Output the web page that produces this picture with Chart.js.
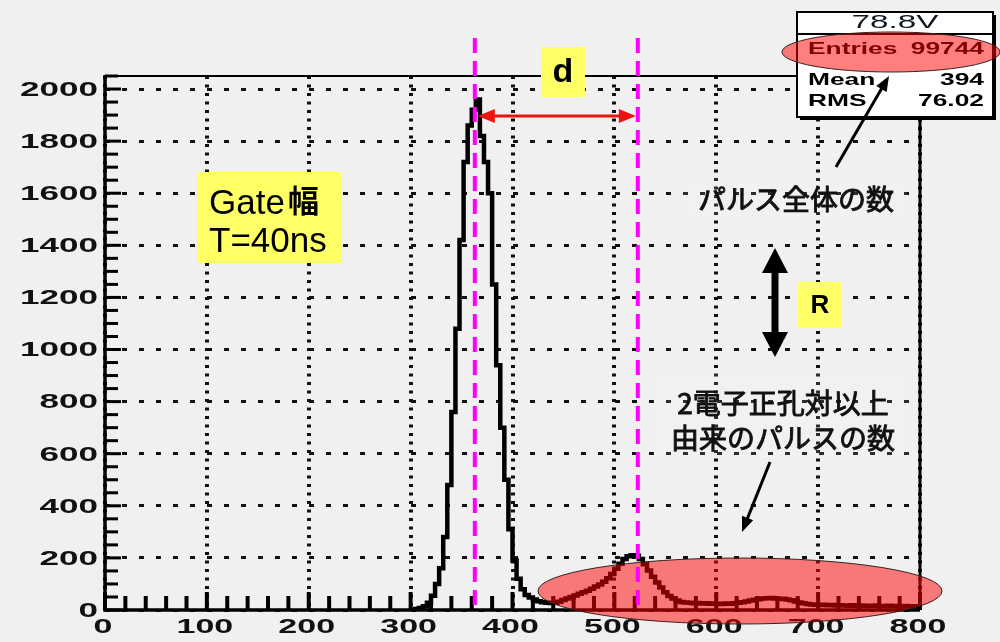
<!DOCTYPE html>
<html>
<head>
<meta charset="utf-8">
<script src="https://cdn.jsdelivr.net/npm/chart.js@4.4.1/dist/chart.umd.min.js"></script>
<style>
  html, body { margin: 0; padding: 0; background: #f0f0f0; }
  canvas { display: block; }
</style>
</head>
<body>
<canvas id="c" width="1000" height="642"></canvas>
<script>
// Pulse-height histogram, 4-unit bins starting at 300
const binStart = 300;
const binWidth = 4;
const counts = [
  2, 4, 8, 14, 28, 55, 100, 160, 280, 480,
  760, 1080, 1420, 1720, 1860, 1920, 1960, 1820, 1720, 1600,
  1250, 940, 700, 500, 310, 190, 120, 80, 58, 48,
  40, 34, 30, 28, 27, 28, 32, 38, 44, 50,
  56, 62, 68, 74, 82, 90, 98, 108, 122, 138,
  158, 178, 196, 206, 210, 208, 196, 176, 152, 128,
  106, 86, 68, 54, 44, 36, 31, 29, 28, 26,
  27, 25, 26, 24, 25, 24, 23, 25, 24, 26,
  28, 30, 33, 36, 39, 41, 44, 45, 46, 44,
  42, 43, 40, 37, 33, 29, 26, 23, 21, 20,
  19, 20, 18, 19, 17, 18, 17, 16, 18, 16,
  17, 15, 16, 15, 17, 15, 14, 16, 14, 15,
  13, 15, 14, 13, 14
];

// Axis ranges and tick spacing
const xRange = [0, 800];
const yRange = [0, 2050];
const xMajor = 100, xMinor = 20;
const yMajor = 200, yMinor = 50;

// Peak positions marked with dashed lines (1 e-h pair and 2 e-h pairs)
const markerX = [363, 523];

// Statistics box
const statTitle = '78.8V';
const statRows = [['Entries', '99744'], ['Mean', '394'], ['RMS', '76.02']];

// Annotation texts
const gateLines = ['Gate', '幅', 'T=40ns'];
const totalLabel = 'パルス全体の数';
const pairLabel = ['2電子正孔対以上', '由来のパルスの数'];

const BG = '#f0f0f0';
const SANS = '"Liberation Sans", Arial, sans-serif';
const CJK = '"Noto Sans CJK JP", sans-serif';

const points = counts.map((v, i) => ({ x: binStart + binWidth * (i + 0.5), y: v }));

function wideText(ctx, text, x, y, sx, align) {
  ctx.save();
  ctx.translate(x, y);
  ctx.scale(sx, 1);
  ctx.textAlign = align;
  ctx.fillText(text, 0, 0);
  ctx.restore();
}

// medium-weight text: regular glyphs with a thin outline
function mediumText(ctx, text, x, y) {
  ctx.fillText(text, x, y);
  ctx.strokeText(text, x, y);
}

function arrowLine(ctx, x1, y1, x2, y2, color, width, headLen, headHalf, both) {
  const ang = Math.atan2(y2 - y1, x2 - x1);
  const ux = Math.cos(ang), uy = Math.sin(ang);
  ctx.save();
  ctx.strokeStyle = color; ctx.fillStyle = color; ctx.lineWidth = width;
  ctx.beginPath();
  ctx.moveTo(both ? x1 + ux * headLen * 0.8 : x1, both ? y1 + uy * headLen * 0.8 : y1);
  ctx.lineTo(x2 - ux * headLen * 0.8, y2 - uy * headLen * 0.8);
  ctx.stroke();
  const head = (tx, ty, dx, dy) => {
    ctx.beginPath();
    ctx.moveTo(tx, ty);
    ctx.lineTo(tx - dx * headLen - dy * headHalf, ty - dy * headLen + dx * headHalf);
    ctx.lineTo(tx - dx * headLen + dy * headHalf, ty - dy * headLen - dx * headHalf);
    ctx.closePath();
    ctx.fill();
  };
  head(x2, y2, ux, uy);
  if (both) head(x1, y1, -ux, -uy);
  ctx.restore();
}

function ellipse(ctx, cx, cy, rx, ry) {
  ctx.save();
  ctx.beginPath();
  ctx.ellipse(cx, cy, rx, ry, 0, 0, Math.PI * 2);
  ctx.fillStyle = 'rgba(255,0,0,0.5)';
  ctx.fill();
  ctx.strokeStyle = '#3a2020';
  ctx.lineWidth = 1;
  ctx.stroke();
  ctx.restore();
}

function box(ctx, x, y, w, h, color) {
  ctx.save(); ctx.fillStyle = color; ctx.fillRect(x, y, w, h); ctx.restore();
}

const decor = {
  id: 'decor',
  beforeDraw(chart) {
    const c = chart.ctx;
    c.save(); c.fillStyle = BG; c.fillRect(0, 0, chart.width, chart.height); c.restore();
  },
  afterDatasetsDraw(chart) {
    const ctx = chart.ctx;
    const xs = chart.scales.x, ys = chart.scales.y, a = chart.chartArea;

    // frame
    ctx.save();
    ctx.strokeStyle = '#000';
    ctx.lineWidth = 2;
    ctx.beginPath(); ctx.moveTo(a.left, a.top); ctx.lineTo(a.right, a.top); ctx.stroke();
    ctx.lineWidth = 3.5;
    ctx.beginPath(); ctx.moveTo(a.left, a.top - 1); ctx.lineTo(a.left, a.bottom); ctx.lineTo(a.right, a.bottom); ctx.stroke();
    ctx.lineWidth = 3;
    ctx.beginPath(); ctx.moveTo(a.right, a.top - 1); ctx.lineTo(a.right, a.bottom); ctx.stroke();

    // inward ticks
    ctx.lineWidth = 4;
    for (let v = xRange[0]; v <= xRange[1]; v += xMinor) {
      const px = xs.getPixelForValue(v);
      const len = v % xMajor === 0 ? 18 : 14;
      ctx.beginPath(); ctx.moveTo(px, a.bottom); ctx.lineTo(px, a.bottom - len); ctx.stroke();
    }
    ctx.lineWidth = 3;
    for (let v = yRange[0]; v <= yRange[1]; v += yMinor) {
      const py = ys.getPixelForValue(v);
      const len = v % yMajor === 0 ? 16 : 13;
      ctx.beginPath(); ctx.moveTo(a.left, py); ctx.lineTo(a.left + len, py); ctx.stroke();
    }

    // tick labels
    ctx.fillStyle = '#111';
    ctx.font = 'bold 21px ' + SANS;
    ctx.textBaseline = 'middle';
    ys.ticks.forEach(t => {
      wideText(ctx, String(t.value), a.left - 7, ys.getPixelForValue(t.value) + 1, 1.67, 'right');
    });
    xs.ticks.forEach(t => {
      wideText(ctx, String(t.value), xs.getPixelForValue(t.value) - 2, 627, 1.62, 'center');
    });
    ctx.restore();

    // Gate label
    ctx.save();
    box(ctx, 197, 172, 145, 91, '#ffff66');
    ctx.fillStyle = '#000';
    ctx.textBaseline = 'alphabetic';
    ctx.textAlign = 'left';
    ctx.font = '35px ' + SANS;
    ctx.fillText(gateLines[0], 209, 214);
    const gw = ctx.measureText(gateLines[0]).width;
    ctx.font = 'bold 31px ' + CJK;
    ctx.fillText(gateLines[1], 209 + gw + 3, 212);
    ctx.font = '35px ' + SANS;
    ctx.fillText(gateLines[2], 209, 252);
    ctx.restore();

    // text labels on the right
    ctx.save();
    box(ctx, 683, 177, 224, 40, 'rgba(255,255,255,0.12)');
    box(ctx, 653, 373, 257, 85, 'rgba(255,255,255,0.12)');
    ctx.fillStyle = '#111';
    ctx.strokeStyle = '#111';
    ctx.lineWidth = 0.9;
    ctx.font = '28px ' + CJK;
    ctx.textAlign = 'center';
    ctx.textBaseline = 'middle';
    mediumText(ctx, totalLabel, 796, 199);
    mediumText(ctx, pairLabel[0], 783, 403);
    mediumText(ctx, pairLabel[1], 783, 438);
    ctx.restore();

    // R label and vertical double arrow
    ctx.save();
    arrowLine(ctx, 775, 248, 775, 357, '#000', 7, 25, 13, true);
    box(ctx, 798, 282, 44, 46, '#ffff66');
    ctx.fillStyle = '#000';
    ctx.font = 'bold 26px ' + SANS;
    ctx.textAlign = 'center';
    ctx.textBaseline = 'middle';
    ctx.fillText('R', 820, 306);
    ctx.restore();

    // d label and red double arrow between the peaks
    ctx.save();
    box(ctx, 541, 47, 44, 50, '#ffff66');
    ctx.fillStyle = '#000';
    ctx.font = 'bold 34px ' + SANS;
    ctx.textAlign = 'center';
    ctx.textBaseline = 'middle';
    ctx.fillText('d', 563, 73);
    ctx.restore();
    const m0 = xs.getPixelForValue(markerX[0]), m1 = xs.getPixelForValue(markerX[1]);
    arrowLine(ctx, m0 + 3, 116, m1 - 2, 116, '#ee1111', 3, 17, 7, true);

    // statistics box
    ctx.save();
    const bx = 797, by = 12, bw = 196, bh = 105;
    ctx.fillStyle = '#000';
    ctx.fillRect(bx + 3, by + 3, bw, bh);
    ctx.fillStyle = '#ffffff';
    ctx.fillRect(bx, by, bw, bh);
    ctx.strokeStyle = '#000';
    ctx.lineWidth = 2;
    ctx.strokeRect(bx, by, bw, bh);
    ctx.beginPath(); ctx.moveTo(bx, 34); ctx.lineTo(bx + bw, 34); ctx.stroke();
    ctx.fillStyle = '#0e1620';
    ctx.textBaseline = 'middle';
    ctx.font = '19px ' + SANS;
    wideText(ctx, statTitle, bx + bw / 2, 23, 1.75, 'center');
    ctx.fillStyle = '#000';
    ctx.font = 'bold 17px ' + SANS;
    const rowY = [49, 80, 101];
    statRows.forEach((r, i) => {
      wideText(ctx, r[0], 808, rowY[i], 1.55, 'left');
      wideText(ctx, r[1], 984, rowY[i], 1.55, 'right');
    });
    ctx.restore();

    // highlight ellipses
    ellipse(ctx, 740, 591, 202, 33);
    ellipse(ctx, 891, 52, 109, 20);

    // dashed peak markers
    ctx.save();
    ctx.strokeStyle = '#ff00ff';
    ctx.lineWidth = 4;
    ctx.setLineDash([15, 8]);
    [m0, m1].forEach(px => {
      ctx.beginPath(); ctx.moveTo(px, 38); ctx.lineTo(px, a.bottom); ctx.stroke();
    });
    ctx.restore();

    // pointer arrows
    arrowLine(ctx, 836, 167, 889, 76, '#000', 3, 15, 6, false);
    arrowLine(ctx, 770, 462, 742, 532, '#000', 3, 15, 6, false);
  }
};

new Chart(document.getElementById('c'), {
  type: 'line',
  data: {
    datasets: [{
      data: points,
      stepped: 'middle',
      borderColor: '#000',
      borderWidth: 4.5,
      pointRadius: 0,
      fill: false
    }]
  },
  options: {
    responsive: false,
    animation: false,
    devicePixelRatio: 1,
    layout: { padding: { left: 0, right: 80, top: 76, bottom: 0 } },
    plugins: { legend: { display: false }, tooltip: { enabled: false } },
    scales: {
      x: {
        type: 'linear',
        min: xRange[0], max: xRange[1],
        ticks: { display: false, stepSize: xMajor, includeBounds: false },
        grid: { color: '#111', lineWidth: 4, drawTicks: false },
        border: { display: false, dash: [3, 5.5] },
        afterFit(s) { s.height = 32; }
      },
      y: {
        type: 'linear',
        min: yRange[0], max: yRange[1],
        ticks: { display: false, stepSize: yMajor, includeBounds: false },
        grid: { color: '#111', lineWidth: 3, drawTicks: false },
        border: { display: false, dash: [5, 12] },
        afterFit(s) { s.width = 105; }
      }
    }
  },
  plugins: [decor]
});
</script>
</body>
</html>
